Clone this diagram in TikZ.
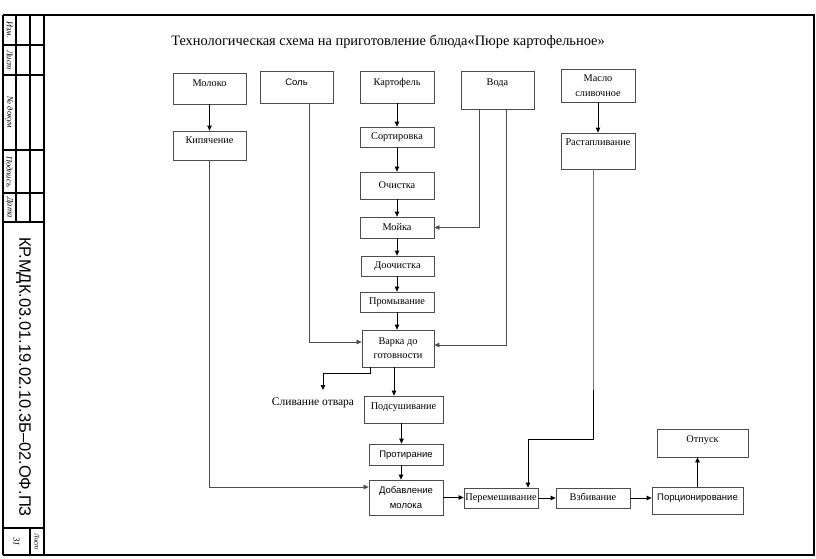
\documentclass[tikz,border=0pt]{standalone}
\usepackage{fontspec}
\setmainfont{Liberation Serif}
\newfontfamily\arialf{Liberation Sans}
\usetikzlibrary{arrows.meta,calc}
\begin{document}
\begin{tikzpicture}[x=1pt,y=-1pt,
  frame/.style={line width=1.6pt,black},
  box/.style={draw=black!70,line width=0.8pt,inner sep=0pt,font=\fontsize{10.3}{12}\selectfont,align=center},
  sl/.style={text height=7pt,text depth=2pt},
  sbox/.style={box,font=\arialf\fontsize{9.5}{11.5}\selectfont},
  arr/.style={draw=black,line width=0.8pt,-{Triangle[length=5pt,width=4.5pt]}},
  feed/.style={draw=black!55,line width=0.6pt},
  feedarr/.style={feed,-{Triangle[length=5pt,width=4.5pt]},draw=black!70},
  up/.style={text depth=#1},
  strip/.style={rotate=-90,font=\itshape\fontsize{8.5}{9}\selectfont}
]
\useasboundingbox (0,0) rectangle (816,558);
% page frame
\draw[frame] (44,15) rectangle (814,555);
\draw[frame] (3,15) -- (44,15);
\draw[frame] (3,555) -- (44,555);
\draw[frame] (3,15) -- (3,555);
\draw[frame] (16,15) -- (16,222);
\draw[frame] (30,15) -- (30,222);
\foreach \yy in {45,75,150,193,222,528} \draw[frame] (3,\yy) -- (44,\yy);
\draw[frame] (30,528) -- (30,555);
\node[strip] (lizm) at (9.5,30) {Изм.};
\node[strip] (llist) at (9.5,60) {Лист};
\node[strip] (ldoc) at (9.5,112.5) {№ докум};
\node[strip] (lsign) at (9.5,171.5) {Подпись};
\node[strip] (ldate) at (9.5,207.5) {Дата};
\node[rotate=-90,font=\arialf\fontsize{16.5}{18}\selectfont] (code) at (23.5,377) {КР.МДК.03.01.19.02.10.3Б–02.ОФ.ПЗ};
\node[rotate=-90,font=\itshape\fontsize{9}{10}\selectfont] (pnum) at (16.5,541.5) {31};
\node[rotate=-90,font=\itshape\fontsize{7}{8}\selectfont] (plist) at (37,541.5) {Лист};
% title
\node[font=\fontsize{14.4}{16}\selectfont] (title) at (388,42) {Технологическая схема на приготовление блюда«Пюре картофельное»};
% boxes
\node[box,sl,up=11pt,minimum width=73pt,minimum height=31pt] (milk) at (209.5,88.5) {Молоко};
\node[sbox,sl,up=10pt,minimum width=73pt,minimum height=32pt] (salt) at (296.5,87) {Соль};
\node[box,sl,up=10pt,minimum width=74pt,minimum height=32pt] (potato) at (397,87) {Картофель};
\node[box,sl,up=16pt,minimum width=73pt,minimum height=38pt] (water) at (497.5,90) {Вода};
\node[box,minimum width=74pt,minimum height=33pt,font=\fontsize{10.3}{15}\selectfont] (butter) at (598,85.5) {Масло\\сливочное};
\node[box,sl,up=11pt,minimum width=73pt,minimum height=29pt] (boil) at (209.5,145.5) {Кипячение};
\node[box,sl,minimum width=74pt,minimum height=20pt] (sort) at (397,137) {Сортировка};
\node[box,sl,up=18pt,minimum width=74pt,minimum height=36pt] (melt) at (598,151) {Растапливание};
\node[box,sl,minimum width=74pt,minimum height=27pt] (clean) at (397,185.5) {Очистка};
\node[box,sl,minimum width=74pt,minimum height=21pt] (wash) at (397,227.5) {Мойка};
\node[box,sl,minimum width=73pt,minimum height=20pt] (preclean) at (397.5,266) {Доочистка};
\node[box,sl,minimum width=74pt,minimum height=20pt] (rinse) at (397,302) {Промывание};
\node[box,minimum width=72pt,minimum height=37pt,font=\fontsize{10.3}{14}\selectfont] (cook) at (398,348.5) {Варка до\\готовности};
\node[font=\fontsize{11.5}{13}\selectfont] (drain) at (313,403) {Сливание отвара};
\node[box,sl,up=7pt,minimum width=79pt,minimum height=27pt] (dry) at (403.5,409.5) {Подсушивание};
\node[sbox,sl,minimum width=74pt,minimum height=21pt] (wipe) at (406,454.5) {Протирание};
\node[sbox,minimum width=74pt,minimum height=35pt,font=\arialf\fontsize{9.5}{15}\selectfont] (add) at (406,497.5) {Добавление\\молока};
\node[box,sl,minimum width=74pt,minimum height=20pt] (mix) at (501,498) {Перемешивание};
\node[box,sl,minimum width=74pt,minimum height=20pt] (whip) at (593,498) {Взбивание};
\node[sbox,sl,up=7pt,minimum width=91pt,minimum height=27pt] (portion) at (697.5,500.5) {Порционирование};
\node[box,sl,up=8pt,minimum width=91pt,minimum height=28pt] (out) at (702.5,443) {Отпуск};
% helper coordinates
\coordinate (dbend) at (323,373);
\coordinate (dend) at (323,390);
\coordinate (mbend) at (528,439);
% connectors
\draw[arr] (milk.south) -- (boil.south |- boil.north);
\draw[feedarr] (boil.south) |- ([yshift=10.5pt]add.west);
\draw[feedarr] ([xshift=12.5pt]salt.south) |- ([yshift=6.5pt]cook.west);
\draw[arr] (potato.south) -- (sort.north);
\draw[arr] (sort.south) -- (clean.north);
\draw[arr] (clean.south) -- (wash.north);
\draw[feedarr] ([xshift=-18.5pt]water.south) |- (wash.east);
\draw[feedarr] ([xshift=8.5pt]water.south) |- ([yshift=3.5pt]cook.east);
\draw[arr] (wash.south) -- (wash.south |- preclean.north);
\draw[arr] (preclean.south -| wash.south) -- (wash.south |- rinse.north);
\draw[arr] (rinse.south) -- (rinse.south |- cook.north);
\draw[arr] (butter.south) -- (melt.north);
\draw[arr] ([xshift=-28pt]cook.south) |- (dbend) -- (dend);
\draw[arr] ([xshift=-4pt]cook.south) -- ([xshift=-4pt]cook.south |- dry.north);
\draw[arr] ([xshift=-2pt]dry.south) -- ([xshift=-2pt]dry.south |- wipe.north);
\draw[arr] ([xshift=-5pt]wipe.south) -- ([xshift=-5pt]add.north);
\draw[arr] (add.east) -- (add.east -| mix.west);
\draw[feed] ([xshift=-5pt]melt.south) |- (mbend);
\draw[arr] ([xshift=-5pt]melt.south |- 0,390) -- ([xshift=-5pt]melt.south |- mbend) -- (mbend) -- (mbend |- mix.north);
\draw[arr] (mix.east) -- (mix.east -| whip.west);
\draw[arr] (whip.east) -- (whip.east -| portion.west);
\draw[arr] (portion.north) -- (portion.north |- out.south);
\end{tikzpicture}
\end{document}
